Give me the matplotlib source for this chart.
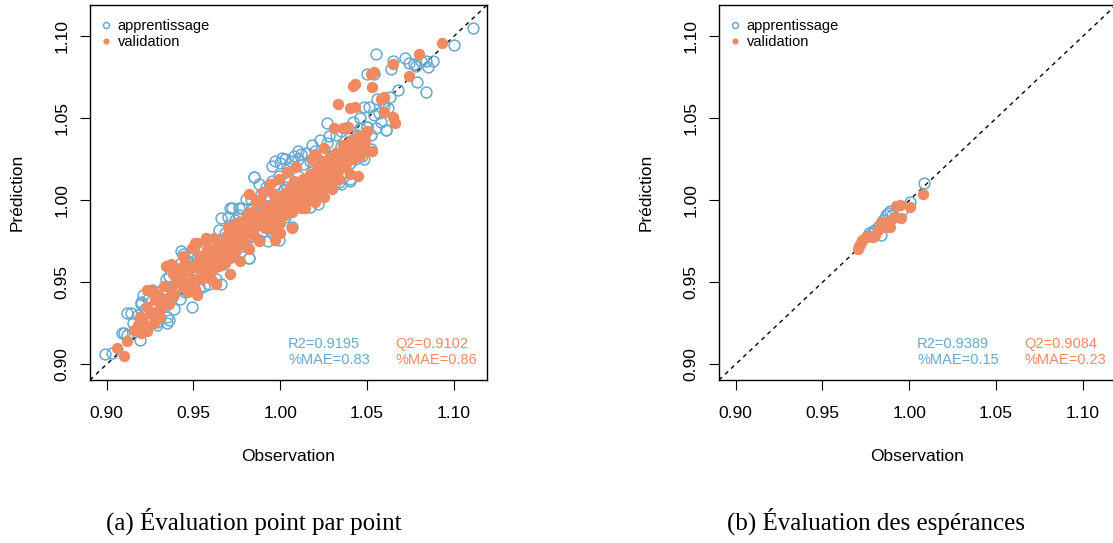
import matplotlib
matplotlib.use("Agg")
import matplotlib.pyplot as plt

# couleurs (RdBu)
bleu = "#67A9CF"
orange = "#EF8A62"

# --- (a) évaluation point par point : apprentissage (observation, prédiction)
app_obs = [0.899, 0.903, 0.912, 0.910, 0.915, 0.917, 0.918, 0.920, 0.921, 0.922, 0.924, 0.925,
           0.926, 0.927, 0.928, 0.930, 0.931, 0.933, 0.935, 0.936, 0.934, 0.936, 0.938, 0.939,
           0.940, 0.941, 0.943, 0.944, 0.945, 0.946, 0.947, 0.948, 0.949, 0.950, 0.951, 0.952,
           0.953, 0.955, 0.956, 0.957, 0.958, 0.959, 0.960, 0.961, 0.962, 0.963, 0.964, 0.965,
           0.966, 0.967, 0.968, 0.969, 0.970, 0.971, 0.972, 0.973, 0.974, 0.975, 0.976, 0.977,
           0.978, 0.979, 0.980, 0.981, 0.982, 0.983, 0.984, 0.985, 0.986, 0.987, 0.988, 0.989,
           0.990, 0.991, 0.992, 0.993, 0.994, 0.995, 0.996, 0.997, 0.998, 0.999, 1.000, 1.001,
           1.002, 1.003, 1.004, 1.005, 1.006, 1.007, 1.008, 1.009, 1.010, 1.011, 1.012, 1.013,
           1.014, 1.015, 1.016, 1.017, 1.018, 1.019, 1.020, 1.021, 1.022, 1.023, 1.024, 1.025,
           1.026, 1.027, 1.028, 1.029, 1.030, 1.031, 1.032, 1.033, 1.034, 1.035, 1.036, 1.037,
           1.038, 1.039, 1.040, 1.041, 1.042, 1.043, 1.044, 1.045, 1.046, 1.047, 1.048, 1.050,
           1.051, 1.052, 1.054, 1.055, 1.056, 1.058, 1.060, 1.061, 1.063, 1.111, 1.100, 1.055,
           1.065, 1.064, 1.072, 1.074, 1.077, 1.078, 1.081, 1.084, 1.085, 1.088, 1.079, 1.084,
           1.068, 1.050, 1.054, 1.048, 1.050, 1.061, 1.027, 0.985, 0.971, 0.976, 0.982, 0.999,
           0.966, 0.949, 0.943, 0.912, 0.909, 0.920, 0.929, 0.935, 1.022, 1.030, 1.035, 1.040,
           1.023, 1.012, 1.018, 0.995, 0.991,
           0.914, 0.919, 0.923, 0.929, 0.932, 0.937, 0.942, 0.944, 0.947, 0.950, 0.954, 0.956,
           0.958, 0.960, 0.963, 0.965, 0.967, 0.970, 0.972, 0.974, 0.976, 0.978, 0.980, 0.983,
           0.985, 0.988, 0.990, 0.993, 0.995, 0.997, 1.000, 1.002, 1.004, 1.006, 1.008, 1.010,
           1.012, 1.015, 1.017, 1.020, 1.022, 1.025, 1.027, 1.030, 1.032, 1.035, 1.037, 1.040,
           1.042, 1.044, 1.046, 1.048, 1.052, 1.057, 1.059, 1.062, 1.010, 1.003, 0.990, 0.998]
app_pred = [0.906, 0.907, 0.918, 0.919, 0.925, 0.921, 0.930, 0.937, 0.942, 0.934, 0.940, 0.928,
            0.945, 0.936, 0.931, 0.941, 0.928, 0.936, 0.929, 0.927, 0.952, 0.954, 0.946, 0.934,
            0.958, 0.950, 0.962, 0.967, 0.944, 0.955, 0.963, 0.949, 0.968, 0.957, 0.953, 0.965,
            0.946, 0.960, 0.970, 0.955, 0.962, 0.949, 0.958, 0.972, 0.966, 0.952, 0.976, 0.970,
            0.989, 0.961, 0.980, 0.974, 0.966, 0.985, 0.995, 0.979, 0.969, 0.983, 0.991, 0.975,
            0.972, 0.987, 1.001, 0.982, 0.965, 0.994, 0.978, 1.014, 0.990, 0.999, 0.976, 1.004,
            0.985, 0.996, 1.008, 0.975, 0.993, 1.012, 0.985, 1.024, 0.991, 1.015, 0.997, 1.026,
            1.006, 0.990, 1.020, 1.011, 1.001, 0.984, 1.027, 1.003, 1.015, 1.008, 0.999, 1.022,
            1.005, 1.029, 1.012, 0.996, 1.034, 1.018, 1.007, 1.025, 0.998, 1.037, 1.016, 1.030,
            1.010, 1.022, 1.039, 1.013, 1.027, 1.010, 1.040, 1.020, 1.011, 1.033, 1.024, 1.015,
            1.044, 1.029, 1.012, 1.036, 1.048, 1.025, 1.040, 1.030, 1.050, 1.027, 1.038, 1.045,
            1.057, 1.031, 1.052, 1.044, 1.062, 1.048, 1.058, 1.043, 1.063, 1.105, 1.095, 1.089,
            1.085, 1.080, 1.087, 1.084, 1.083, 1.082, 1.085, 1.085, 1.081, 1.085, 1.072, 1.066,
            1.067, 1.077, 1.077, 1.057, 1.045, 1.043, 1.047, 1.014, 0.995, 0.995, 0.965, 0.976,
            0.949, 0.935, 0.969, 0.931, 0.919, 0.938, 0.926, 0.925, 1.010, 1.011, 1.010, 1.013,
            1.024, 1.028, 1.025, 1.021, 0.984,
            0.931, 0.915, 0.925, 0.924, 0.945, 0.940, 0.940, 0.958, 0.951, 0.966, 0.962, 0.948,
            0.968, 0.975, 0.960, 0.982, 0.975, 0.990, 0.970, 0.988, 0.980, 0.995, 0.973, 1.001,
            0.984, 1.010, 0.996, 1.003, 0.980, 1.010, 1.023, 0.994, 1.008, 1.024, 1.000, 1.025,
            1.010, 1.000, 1.024, 1.030, 1.014, 1.022, 1.035, 1.017, 1.025, 1.042, 1.030, 1.023,
            1.037, 1.028, 1.044, 1.025, 1.040, 1.053, 1.060, 1.056, 1.030, 1.025, 0.981, 1.000]

# --- (a) validation
val_obs = [0.916, 0.918, 0.920, 0.921, 0.923, 0.925, 0.926, 0.928, 0.930, 0.932, 0.934, 0.935,
           0.937, 0.937, 0.939, 0.940, 0.941, 0.943, 0.944, 0.945, 0.946, 0.948, 0.949, 0.950,
           0.951, 0.952, 0.953, 0.954, 0.955, 0.956, 0.957, 0.958, 0.959, 0.960, 0.961, 0.962,
           0.963, 0.964, 0.965, 0.966, 0.967, 0.968, 0.969, 0.970, 0.971, 0.972, 0.973, 0.974,
           0.975, 0.976, 0.977, 0.978, 0.979, 0.980, 0.981, 0.982, 0.983, 0.984, 0.985, 0.986,
           0.987, 0.988, 0.989, 0.990, 0.991, 0.992, 0.993, 0.994, 0.995, 0.996, 0.997, 0.998,
           0.999, 1.000, 1.001, 1.002, 1.003, 1.004, 1.005, 1.006, 1.007, 1.008, 1.009, 1.010,
           1.011, 1.012, 1.013, 1.014, 1.016, 1.017, 1.018, 1.019, 1.020, 1.021, 1.022, 1.023,
           1.024, 1.025, 1.026, 1.027, 1.028, 1.029, 1.030, 1.031, 1.032, 1.034, 1.035, 1.036,
           1.037, 1.038, 1.040, 1.041, 1.042, 1.044, 1.045, 1.046, 1.048, 1.050, 1.093, 1.080,
           1.074, 1.065, 1.052, 1.054, 1.042, 1.043, 1.053, 1.058, 1.060, 1.033, 1.040, 1.043,
           1.060, 1.065, 1.066, 1.031, 1.036, 1.039, 1.050, 1.025, 1.020, 1.018, 1.045, 1.053,
           1.047, 1.044, 0.982, 0.957, 0.951, 0.934, 0.923, 0.926, 0.923, 0.919, 0.912, 0.906,
           0.910, 0.952, 0.971, 1.007, 1.025, 0.997,
           0.919, 0.922, 0.927, 0.929, 0.931, 0.933, 0.936, 0.938, 0.942, 0.944, 0.947, 0.950,
           0.953, 0.955, 0.958, 0.960, 0.962, 0.964, 0.966, 0.968, 0.970, 0.972, 0.974, 0.976,
           0.978, 0.980, 0.982, 0.984, 0.986, 0.988, 0.990, 0.992, 0.994, 0.996, 0.998, 1.000,
           1.002, 1.004, 1.006, 1.008, 1.010, 1.012, 1.014, 1.016, 1.018, 1.020, 1.022, 1.024,
           1.026, 1.028, 1.030, 1.033, 1.035, 1.038, 1.040, 1.043, 1.046, 1.049, 1.000, 0.975]
val_pred = [0.921, 0.924, 0.919, 0.926, 0.920, 0.931, 0.944, 0.939, 0.933, 0.936, 0.940, 0.960,
            0.961, 0.946, 0.942, 0.951, 0.956, 0.954, 0.947, 0.962, 0.957, 0.950, 0.971, 0.960,
            0.946, 0.974, 0.958, 0.965, 0.952, 0.962, 0.968, 0.976, 0.955, 0.964, 0.958, 0.970,
            0.949, 0.966, 0.960, 0.973, 0.968, 0.962, 0.978, 0.971, 0.965, 0.982, 0.975, 0.969,
            0.986, 0.978, 0.963, 0.984, 0.974, 0.990, 0.980, 0.970, 0.987, 0.993, 0.978, 0.999,
            0.985, 0.975, 0.992, 1.005, 0.983, 0.996, 0.988, 1.010, 0.990, 0.982, 1.000, 0.993,
            1.013, 0.986, 0.996, 1.004, 0.991, 1.017, 0.999, 1.009, 0.993, 1.004, 1.020, 0.998,
            1.008, 1.001, 1.013, 0.995, 1.005, 1.016, 1.003, 1.010, 0.999, 1.023, 1.012, 1.004,
            1.017, 1.008, 1.021, 1.011, 1.026, 1.016, 1.007, 1.019, 1.029, 1.013, 1.024, 1.034,
            1.020, 1.029, 1.016, 1.037, 1.025, 1.032, 1.039, 1.027, 1.033, 1.030, 1.096, 1.089,
            1.076, 1.083, 1.077, 1.078, 1.070, 1.071, 1.069, 1.062, 1.063, 1.059, 1.056, 1.057,
            1.054, 1.051, 1.047, 1.044, 1.044, 1.045, 1.042, 1.032, 1.028, 1.025, 1.015, 1.030,
            1.032, 1.035, 1.004, 0.977, 0.974, 0.960, 0.945, 0.945, 0.935, 0.922, 0.914, 0.910,
            0.905, 0.942, 0.955, 0.983, 1.002, 0.976,
            0.929, 0.922, 0.925, 0.943, 0.929, 0.948, 0.937, 0.955, 0.959, 0.966, 0.944, 0.952,
            0.966, 0.958, 0.970, 0.952, 0.977, 0.972, 0.964, 0.975, 0.984, 0.968, 0.979, 0.987,
            0.977, 0.980, 0.992, 0.984, 0.989, 1.000, 0.990, 0.985, 0.996, 1.004, 0.986, 0.993,
            0.998, 1.005, 0.996, 1.012, 1.004, 0.995, 1.009, 1.012, 1.000, 1.017, 1.008, 1.024,
            1.014, 1.010, 1.022, 1.018, 1.028, 1.022, 1.030, 1.036, 1.033, 1.036, 0.980, 0.972]

# --- (b) évaluation des espérances
esp_app_obs = [1.0084, 1.0002, 0.9960, 0.9887, 0.9868, 0.9839, 0.9790, 0.9770, 0.9850, 0.9880,
               0.9820, 0.9800, 0.9900, 0.9760]
esp_app_pred = [1.0107, 0.9992, 0.9941, 0.9937, 0.9911, 0.9790, 0.9810, 0.9800, 0.9880, 0.9920,
                0.9840, 0.9820, 0.9910, 0.9785]
esp_val_obs = [1.0079, 1.0002, 0.9944, 0.9925, 0.9954, 0.9906, 0.9890, 0.9868, 0.9839, 0.9820,
               0.9800, 0.9790, 0.9752, 0.9730, 0.9710, 0.9704, 0.9720, 0.9880, 0.9850]
esp_val_pred = [1.0038, 0.9962, 0.9972, 0.9968, 0.9895, 0.9891, 0.9840, 0.9840, 0.9870, 0.9820,
                0.9790, 0.9775, 0.9775, 0.9760, 0.9719, 0.9700, 0.9740, 0.9860, 0.9850]

stats_a = ["R2=0.9195\n%MAE=0.83", "Q2=0.9102\n%MAE=0.86"]
stats_b = ["R2=0.9389\n%MAE=0.15", "Q2=0.9084\n%MAE=0.23"]
captions = ["(a) Évaluation point par point", "(b) Évaluation des espérances"]
ticks = [0.90, 0.95, 1.00, 1.05, 1.10]
lim = (0.8904, 1.1191)

plt.rcParams["font.family"] = ["Liberation Sans", "DejaVu Sans"]

fig = plt.figure(figsize=(11.13, 5.43), dpi=100)
W, H = 1113, 543
boxes = [(90, 5, 397, 375), (719, 5, 397, 375)]
cap_x = [254, 876]
panels = [(app_obs, app_pred, val_obs, val_pred, stats_a),
          (esp_app_obs, esp_app_pred, esp_val_obs, esp_val_pred, stats_b)]

for (x0, y0, w, h), (ao, ap, vo, vp, st), cap, cx in zip(boxes, panels, captions, cap_x):
    ax = fig.add_axes([x0 / W, 1 - (y0 + h) / H, w / W, h / H])
    ax.plot(lim, lim, color="black", linestyle=(0, (3, 3)), linewidth=1.0, zorder=1)
    ax.plot(ao, ap, linestyle="none", marker="o", markersize=7.8, markerfacecolor="none",
            markeredgecolor=bleu, markeredgewidth=1.1, label="apprentissage", zorder=2)
    ax.plot(vo, vp, linestyle="none", marker="o", markersize=8.2, color=orange,
            markeredgewidth=0, label="validation", zorder=3)
    ax.set_xlim(lim)
    ax.set_ylim(lim)
    ax.set_xticks(ticks)
    ax.set_yticks(ticks)
    ax.set_xticklabels([f"{t:.2f}" for t in ticks])
    ax.set_yticklabels([f"{t:.2f}" for t in ticks], rotation=90, va="center")
    ax.tick_params(length=7, width=0.8, labelsize=12.5)
    ax.tick_params(axis="x", pad=12)
    ax.tick_params(axis="y", pad=8)
    for s in ax.spines.values():
        s.set_linewidth(1.0)
    ax.set_xlabel("Observation", fontsize=12.5, labelpad=20)
    ax.set_ylabel("Prédiction", fontsize=12.5, labelpad=21)
    ax.legend(loc="upper left", bbox_to_anchor=(0.022, 0.962), borderaxespad=0, borderpad=0,
              frameon=False, fontsize=10.5, handlelength=1.0, handletextpad=0.3,
              labelspacing=0.15, markerscale=0.55)
    ax.text(1.0045, 0.9075, st[0], color=bleu, fontsize=10.5, ha="left", va="center",
            linespacing=1.1)
    ax.text(1.0662, 0.9075, st[1], color=orange, fontsize=10.5, ha="left", va="center",
            linespacing=1.1)
    fig.text(cx / W, 1 - 521 / H, cap, fontsize=18, ha="center", va="center",
             family=["Liberation Serif", "DejaVu Serif"])

fig.savefig("out.png", dpi=100)
